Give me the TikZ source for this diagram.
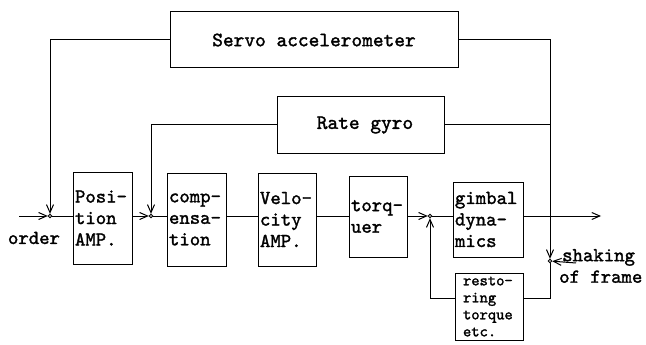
\documentclass[tikz,border=0pt]{standalone}
\usepackage{fontspec}
\newfontfamily\blockfont{lmmono10-regular}[Extension=.otf,FakeBold=1.6]
\usetikzlibrary{positioning,arrows.meta}

\begin{document}
\begin{tikzpicture}[
  x=1pt,y=-1pt,
  font=\blockfont\fontsize{19.8}{21.5}\selectfont,
  block/.style={draw,line width=1pt,align=left,inner sep=2pt},
  sensor/.style={draw,line width=1pt,minimum height=56pt,font=\blockfont\fontsize{20.4}{22}\selectfont},
  flow/.style={line width=1pt},
  sig/.style={line width=1pt,-{Straight Barb[length=8pt,width=7pt]}},
  junc/.style={circle,draw,line width=0.8pt,fill=white,inner sep=0pt,minimum size=3.5pt},
]
\useasboundingbox (0,0) rectangle (646,345);
\node[sensor,minimum width=288pt] (servo) at (314,40) {Servo accelerometer};
\node[sensor,minimum width=167pt] (rate) at (360.5,125) {\hspace{9pt}Rate gyro};
\node[block,text width=55pt,minimum height=92pt] (posamp) at (102.5,218) {Posi-\\tion\\AMP.};
\node[block,text width=55pt,minimum height=93pt] (comp) at (196.5,219.5) {comp-\\ensa-\\tion};
\node[block,text width=54pt,minimum height=93pt] (velo) at (287,219.5) {Velo-\\city\\AMP.};
\node[block,text width=54pt,minimum height=81pt] (torq) at (378,216.5) {torq-\\uer};
\node[block,text width=66pt,minimum height=75pt] (gimbal) at (488,219.5) {gimbal\\dyna-\\mics};
\node[block,text width=52pt,minimum height=67pt,inner xsep=8pt,font=\blockfont\fontsize{15.8}{17}\selectfont] (restore) at (489,306.5) {resto-\\ring\\torque\\etc.};
\node[junc] (j1) at (50,216) {};
\node[junc] (j2) at (151,216) {};
\node[junc] (j3) at (430,216) {};
\node[junc] (j4) at (550,261) {};
\coordinate (in) at (19,216);
\coordinate (out) at (601,216);
\coordinate (shake) at (576,263);
\node (order) at (34,238) {order};
\node[anchor=west,align=left,inner sep=0pt] (shaking) at (559,266) {\hspace{3pt}shaking\\of frame};
\draw[sig] (in) -- (j1);
\draw[flow] (j1) -- (j1 -| posamp.west);
\draw[sig] (posamp.east |- j2) -- (j2);
\draw[flow] (j2) -- (j2 -| comp.west);
\draw[flow] (comp.east |- j2) -- (velo.west |- j2);
\draw[flow] (velo.east |- j2) -- (torq.west |- j2);
\draw[sig] (torq.east |- j3) -- (j3);
\draw[flow] (j3) -- (j3 -| gimbal.west);
\draw[sig] (gimbal.east |- j3) -- (out);
\draw[sig] (servo.west) -| (j1);
\draw[sig] (rate.west) -| (j2);
\draw[sig] (servo.east) -| (j4);
\draw[flow] (rate.east) -- (rate.east -| j4);
\draw[sig] (shake) -- (j4);
\draw[flow] (j4) |- ([yshift=8.5pt]restore.east);
\draw[sig] ([yshift=8.5pt]restore.west) -| (j3);
\end{tikzpicture}
\end{document}
